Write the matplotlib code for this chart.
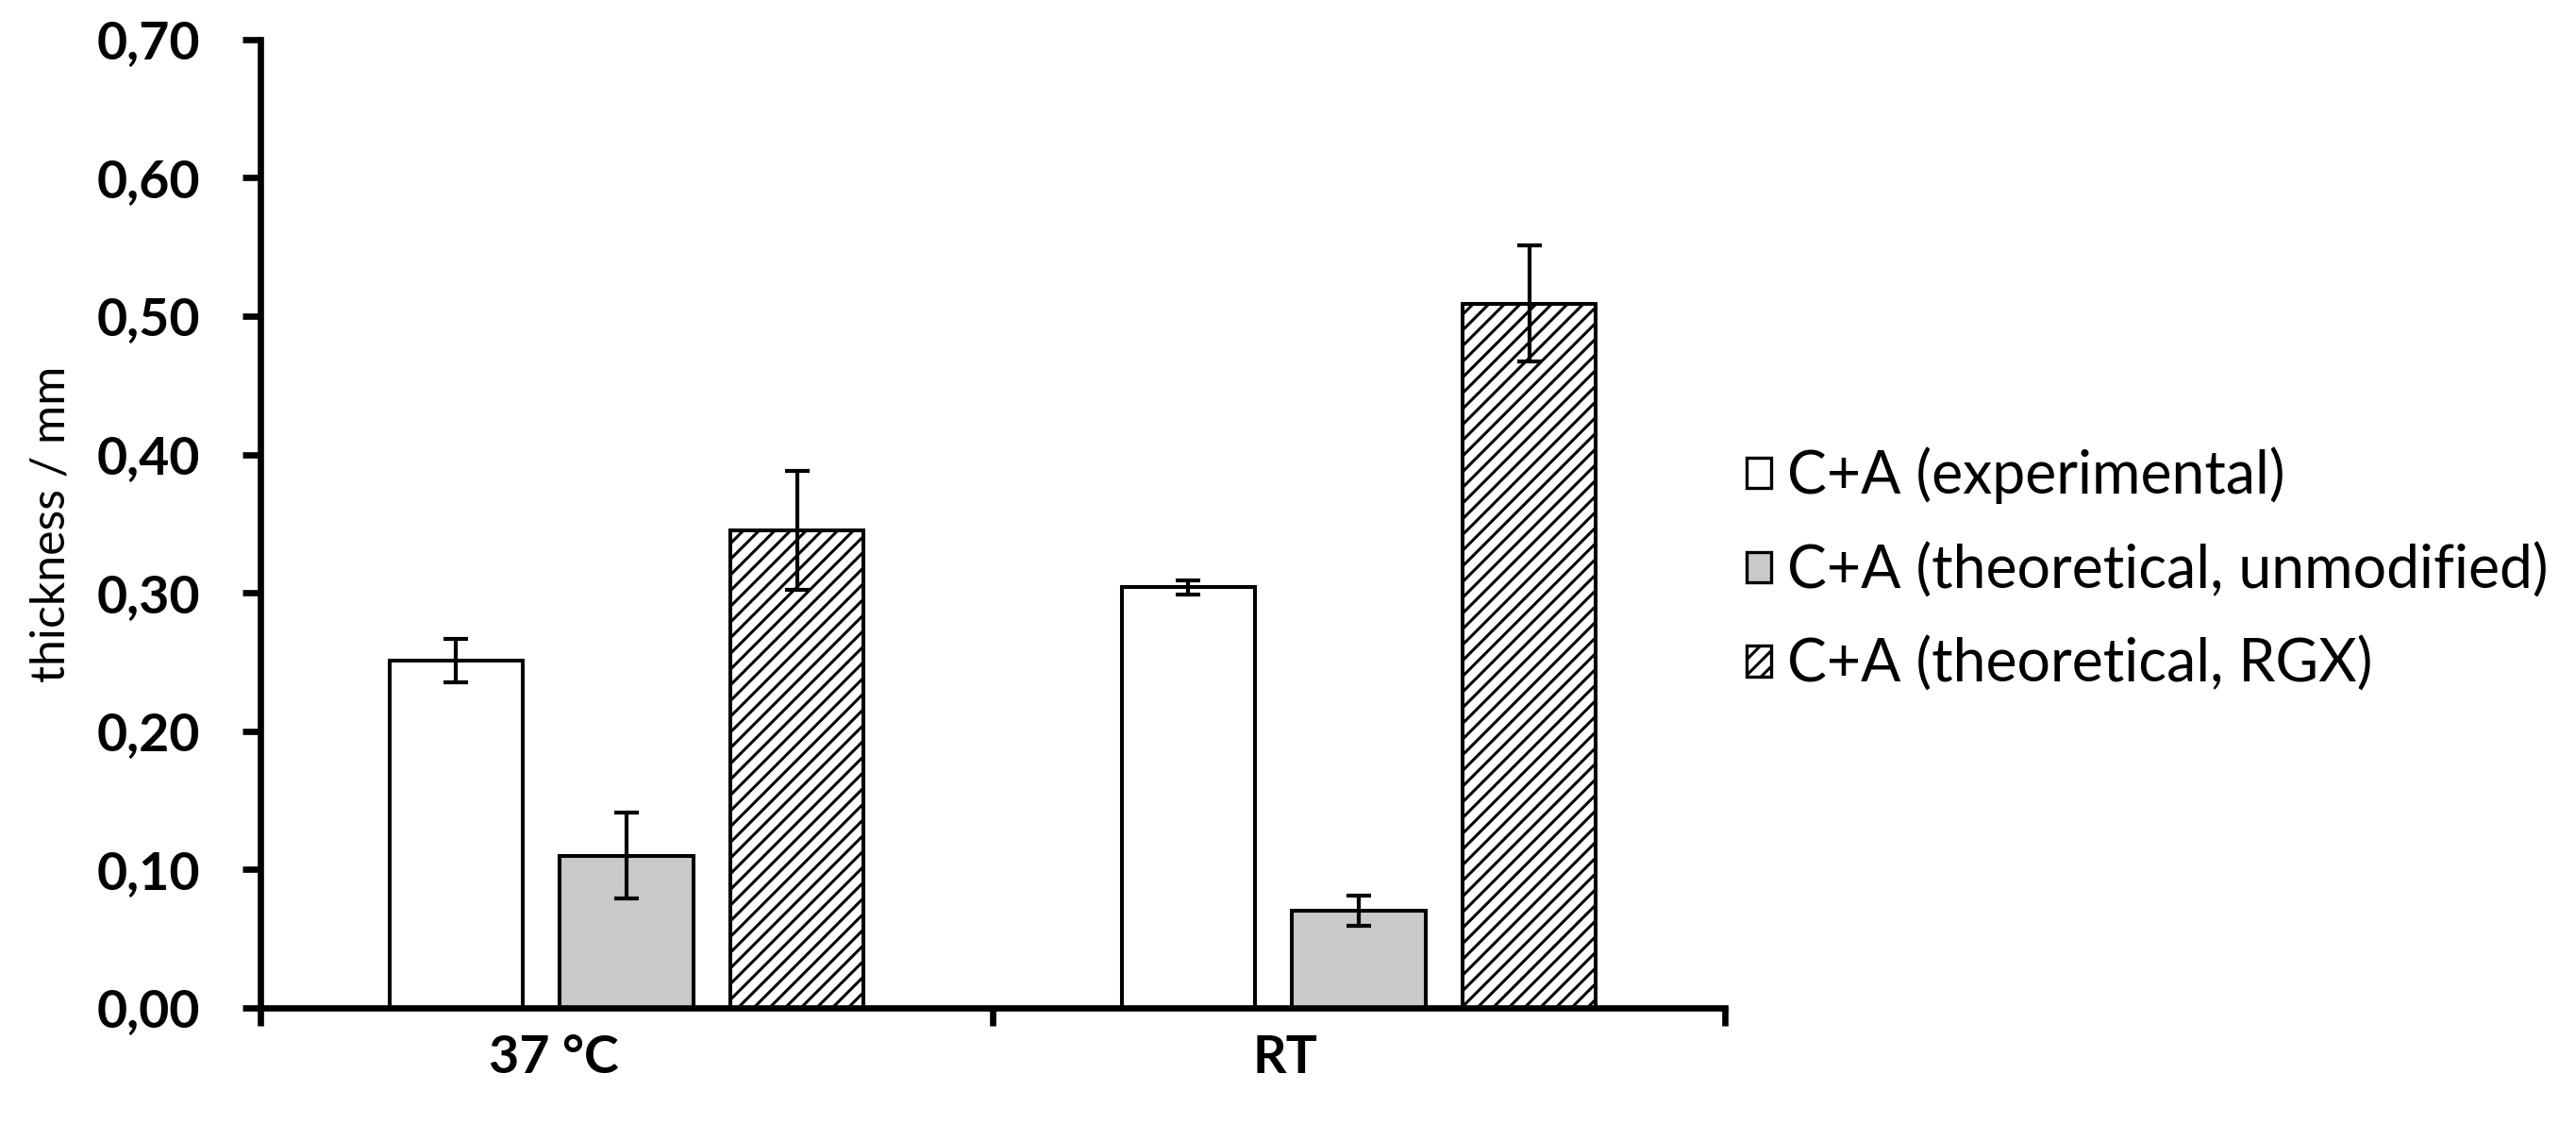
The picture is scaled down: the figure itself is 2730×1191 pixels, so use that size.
import matplotlib
matplotlib.use("Agg")
import matplotlib.pyplot as plt
from matplotlib.patches import Patch

plt.rcParams.update({
    "font.family": ["Lato", "DejaVu Sans"],
    "hatch.linewidth": 1.1,
    "hatch.color": "black",
})

# ── data ──────────────────────────────────────────────────────────────────────
categories = ["37 °C", "RT"]
series = ["C+A (experimental)", "C+A (theoretical, unmodified)", "C+A (theoretical, RGX)"]
experimental = [0.251, 0.304]
experimental_err = [0.016, 0.005]
unmodified = [0.110, 0.070]
unmodified_err = [0.031, 0.011]
rgx = [0.345, 0.509]
rgx_err = [0.043, 0.042]
yticks = [0.0, 0.1, 0.2, 0.3, 0.4, 0.5, 0.6, 0.7]
ytick_labels = ["0,00", "0,10", "0,20", "0,30", "0,40", "0,50", "0,60", "0,70"]

# ── style ─────────────────────────────────────────────────────────────────────
faces = ["white", "#c9c9c9", "white"]
hatches = [None, None, "////"]
BAR_W = 0.182
STEP = 0.233
LABEL_SHIFT = -0.10   # category labels sit slightly left of centre in the original

fig = plt.figure(figsize=(13.65, 5.955), dpi=200)
ax = fig.add_axes([0.1011, 0.1033, 0.5685, 0.8617])

values = [experimental, unmodified, rgx]
errors = [experimental_err, unmodified_err, rgx_err]
for i, (vals, errs) in enumerate(zip(values, errors)):
    xs = [c + (i - 1) * STEP for c in range(len(categories))]
    ax.bar(xs, vals, width=BAR_W, color=faces[i], edgecolor="black",
           linewidth=1.45, hatch=hatches[i], zorder=2)
    ax.errorbar(xs, vals, yerr=errs, fmt="none", ecolor="black",
                elinewidth=1.5, capsize=4.7, capthick=1.5, zorder=3)

ax.set_xlim(-0.5, 1.5)
ax.set_ylim(0, 0.70)
ax.set_yticks(yticks)
ax.set_yticklabels(ytick_labels, fontweight="bold", fontsize=20)
ax.tick_params(axis="y", direction="out", length=7, width=2.4, pad=16)

# category boundaries get ticks, category labels go on minor ticks
ax.set_xticks([-0.5, 0.5, 1.5])
ax.set_xticklabels([])
ax.set_xticks([c + LABEL_SHIFT for c in range(len(categories))], minor=True)
ax.set_xticklabels(categories, minor=True, fontweight="bold", fontsize=20)
ax.tick_params(axis="x", which="major", direction="out", length=7, width=2.4)
ax.tick_params(axis="x", which="minor", length=0, pad=10)

for s in ("top", "right"):
    ax.spines[s].set_visible(False)
for s in ("left", "bottom"):
    ax.spines[s].set_linewidth(2.4)

ax.set_ylabel("thickness / mm", fontsize=18, labelpad=9)

handles = [Patch(facecolor=faces[i], edgecolor="black", linewidth=1.2,
                 hatch=hatches[i], label=series[i]) for i in range(3)]
fig.legend(handles=handles, loc="center left", bbox_to_anchor=(0.6575, 0.493),
           frameon=False, fontsize=22.5, handlelength=0.42, handleheight=0.42,
           handletextpad=0.27, labelspacing=0.65)

fig.savefig("out.png", dpi=200)
